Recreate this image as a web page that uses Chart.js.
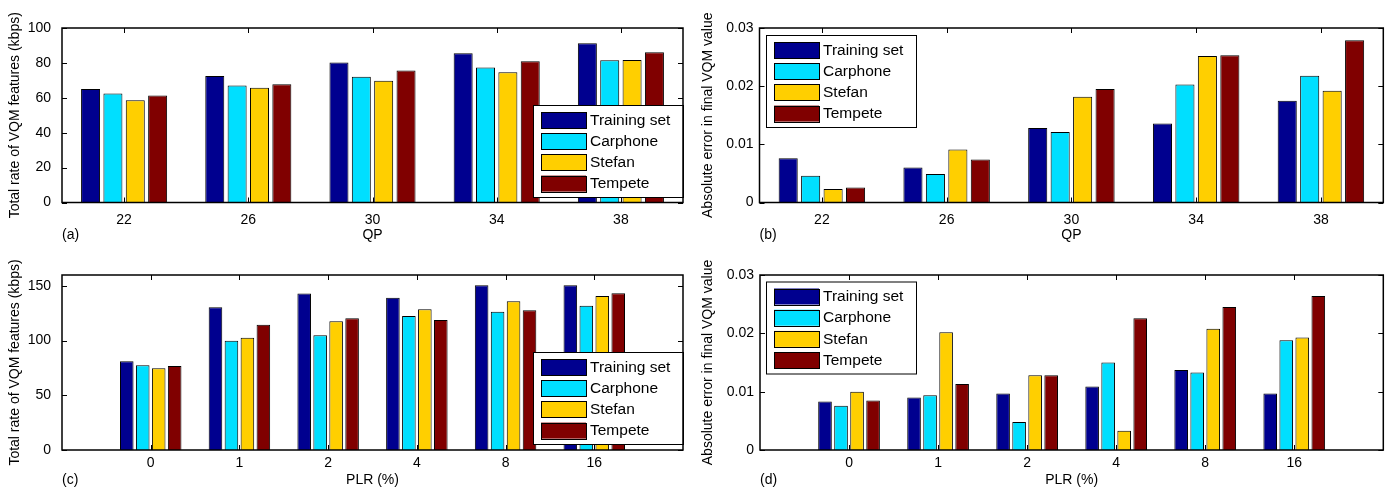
<!DOCTYPE html>
<html>
<head>
<meta charset="utf-8">
<script src="https://cdn.jsdelivr.net/npm/chart.js@4.4.1/dist/chart.umd.min.js"></script>
<style>
  body { margin: 0; background: #fff; }
  canvas { position: absolute; }
</style>
</head>
<body>
<canvas id="chartA" width="698" height="246" style="left:0;top:0"></canvas>
<canvas id="chartB" width="699" height="246" style="left:698px;top:0"></canvas>
<canvas id="chartC" width="698" height="247" style="left:0;top:246px"></canvas>
<canvas id="chartD" width="699" height="247" style="left:698px;top:246px"></canvas>
<script>
// categories
const qpLabels = ['22', '26', '30', '34', '38'];
const plrLabels = ['0', '1', '2', '4', '8', '16'];

// series
const seriesNames = ['Training set', 'Carphone', 'Stefan', 'Tempete'];
const seriesColors = ['#00008f', '#00dfff', '#ffcf00', '#800000'];

// (a) total rate vs QP (kbps)
const rateQpTraining = [65.1, 72.5, 80.2, 85.5, 91.2];
const rateQpCarphone = [62.4, 67.0, 72.1, 77.3, 81.5];
const rateQpStefan   = [58.6, 65.8, 69.8, 74.6, 81.7];
const rateQpTempete  = [61.3, 67.7, 75.6, 80.9, 86.1];

// (b) absolute error vs QP
const errQpTraining = [0.0076, 0.0060, 0.0128, 0.0136, 0.0175];
const errQpCarphone = [0.0046, 0.0049, 0.0121, 0.0203, 0.0218];
const errQpStefan   = [0.0023, 0.0091, 0.0182, 0.0252, 0.0192];
const errQpTempete  = [0.0026, 0.0074, 0.0195, 0.0253, 0.0279];

// (c) total rate vs PLR (kbps)
const ratePlrTraining = [81.1, 130.5, 143.0, 139.3, 150.6, 150.6];
const ratePlrCarphone = [77.4, 100.0, 104.9, 122.6, 126.5, 132.0];
const ratePlrStefan   = [74.7, 102.7, 117.7, 128.7, 136.0, 140.9];
const ratePlrTempete  = [76.8, 114.6, 120.4, 118.9, 127.7, 143.3];

// (d) absolute error vs PLR
const errPlrTraining = [0.0083, 0.0090, 0.0097, 0.0109, 0.0137, 0.0097];
const errPlrCarphone = [0.0076, 0.0094, 0.0048, 0.0150, 0.0133, 0.0188];
const errPlrStefan   = [0.0100, 0.0202, 0.0128, 0.0033, 0.0208, 0.0193];
const errPlrTempete  = [0.0085, 0.0113, 0.0128, 0.0226, 0.0245, 0.0264];

// tick labels
const rateQpTicks = [0, 20, 40, 60, 80, 100];
const ratePlrTicks = [0, 50, 100, 150];
const errTicks = [0, 0.01, 0.02, 0.03];

Chart.defaults.font.family = '"Liberation Sans", Arial, Helvetica, sans-serif';
Chart.defaults.color = '#000';

// MATLAB-like box, inward ticks, legend inside axes and panel tag
const matlabPlugin = {
  id: 'matlab',
  afterDatasetsDraw(chart, args, opts) {
    const ctx = chart.ctx;
    const a = chart.chartArea;
    const xs = chart.scales.x, ys = chart.scales.y;
    ctx.save();
    ctx.strokeStyle = '#000';
    ctx.lineWidth = 1;
    ctx.beginPath();
    ys.ticks.forEach((t, i) => {
      const py = Math.round(ys.getPixelForTick(i)) + 0.5;
      ctx.moveTo(a.left, py); ctx.lineTo(a.left + 5, py);
      ctx.moveTo(a.right, py); ctx.lineTo(a.right - 5, py);
    });
    xs.ticks.forEach((t, i) => {
      if (t.label === '') return;
      const px = Math.round(xs.getPixelForTick(i)) + 0.5;
      ctx.moveTo(px, a.bottom); ctx.lineTo(px, a.bottom - 5);
      ctx.moveTo(px, a.top); ctx.lineTo(px, a.top + 5);
    });
    ctx.stroke();

    // legend
    const bw = 150, bh = 92;
    const bx = opts.legendRight ? a.right - bw : a.left + opts.legendDx;
    const by = opts.legendBottom ? a.bottom - opts.legendDy - bh : a.top + opts.legendDy;
    ctx.fillStyle = '#fff';
    ctx.fillRect(bx, by, bw, bh);
    ctx.lineWidth = 1;
    ctx.strokeRect(bx + 0.5, by + 0.5, bw, bh);
    ctx.font = '15.5px "Liberation Sans", Arial, sans-serif';
    ctx.textBaseline = 'middle';
    ctx.textAlign = 'left';
    chart.data.datasets.forEach((ds, i) => {
      const sy = by + 7 + i * 21.2;
      ctx.fillStyle = ds.backgroundColor;
      ctx.fillRect(bx + 8, sy, 45, 16);
      ctx.strokeRect(bx + 8.5, Math.round(sy) + 0.5, 45, 16);
      ctx.fillStyle = '#000';
      ctx.fillText(ds.label, bx + 57, sy + 8.5);
    });

    // outer box
    ctx.lineWidth = 1.5;
    ctx.strokeRect(a.left, a.top, a.right - a.left, a.bottom - a.top);

    // panel tag
    ctx.font = '14px "Liberation Sans", Arial, sans-serif';
    ctx.fillText(opts.tag, a.left, opts.tagY);
    ctx.restore();
  }
};
Chart.register(matlabPlugin);

function makeChart(id, labels, values, offset, yMax, yTicks, yTitle, xTitle, lay, mat) {
  const datasets = seriesNames.map((name, i) => ({
    label: name,
    data: values[i],
    backgroundColor: seriesColors[i],
    borderColor: '#000',
    borderWidth: 1,
    categoryPercentage: 0.72,
    barPercentage: 0.85
  }));
  return new Chart(document.getElementById(id), {
    type: 'bar',
    data: { labels: labels, datasets: datasets },
    options: {
      responsive: false,
      animation: false,
      events: [],
      layout: { padding: lay.padding },
      plugins: { legend: { display: false }, tooltip: { enabled: false }, matlab: mat },
      scales: {
        x: {
          type: 'category',
          offset: offset,
          afterFit: s => { s.height = lay.xHeight; },
          grid: { display: false, drawTicks: false, offset: offset },
          border: { display: false },
          ticks: { padding: lay.xPad, autoSkip: false, maxRotation: 0, font: { size: 14 } },
          title: { display: true, text: xTitle, font: { size: 14 }, padding: 0 }
        },
        y: {
          min: 0,
          max: yMax,
          afterBuildTicks: s => { s.ticks = yTicks.map(v => ({ value: v })); },
          afterFit: s => { s.width = lay.yWidth; },
          grid: { display: false, drawTicks: false },
          border: { display: false },
          ticks: { padding: lay.yPad, font: { size: 14 }, callback: v => String(v) },
          title: { display: true, text: yTitle, font: { size: 14 }, padding: 0 }
        }
      }
    }
  });
}

const rateTitle = 'Total rate of VQM features (kbps)';
const errTitle = 'Absolute error in final VQM value';
const padLabels = ['', ...plrLabels, ''];
const pad = arr => [null, ...arr, null];

makeChart('chartA', qpLabels,
  [rateQpTraining, rateQpCarphone, rateQpStefan, rateQpTempete],
  true, 100, rateQpTicks, rateTitle, 'QP',
  { padding: { left: 7, top: 28, right: 15, bottom: 2.5 }, yWidth: 55, xHeight: 41, xPad: 9, yPad: 11 },
  { legendRight: true, legendBottom: true, legendDy: 5.5, tag: '(a)', tagY: 235 });

makeChart('chartB', qpLabels,
  [errQpTraining, errQpCarphone, errQpStefan, errQpTempete],
  true, 0.03, errTicks, errTitle, 'QP',
  { padding: { left: 2, top: 28, right: 13.7, bottom: 2.5 }, yWidth: 59.5, xHeight: 41, xPad: 9, yPad: 6 },
  { legendRight: false, legendBottom: false, legendDx: 6.5, legendDy: 7, tag: '(b)', tagY: 235 });

makeChart('chartC', padLabels,
  [pad(ratePlrTraining), pad(ratePlrCarphone), pad(ratePlrStefan), pad(ratePlrTempete)],
  false, 160, ratePlrTicks, rateTitle, 'PLR (%)',
  { padding: { left: 7, top: 29, right: 15, bottom: 4.6 }, yWidth: 55, xHeight: 38.4, xPad: 5, yPad: 11 },
  { legendRight: true, legendBottom: true, legendDy: 6, tag: '(c)', tagY: 234 });

makeChart('chartD', padLabels,
  [pad(errPlrTraining), pad(errPlrCarphone), pad(errPlrStefan), pad(errPlrTempete)],
  false, 0.03, errTicks, errTitle, 'PLR (%)',
  { padding: { left: 2, top: 29, right: 13.7, bottom: 4.6 }, yWidth: 60, xHeight: 38.4, xPad: 5, yPad: 6 },
  { legendRight: false, legendBottom: false, legendDx: 6, legendDy: 6.5, tag: '(d)', tagY: 234 });
</script>
</body>
</html>
